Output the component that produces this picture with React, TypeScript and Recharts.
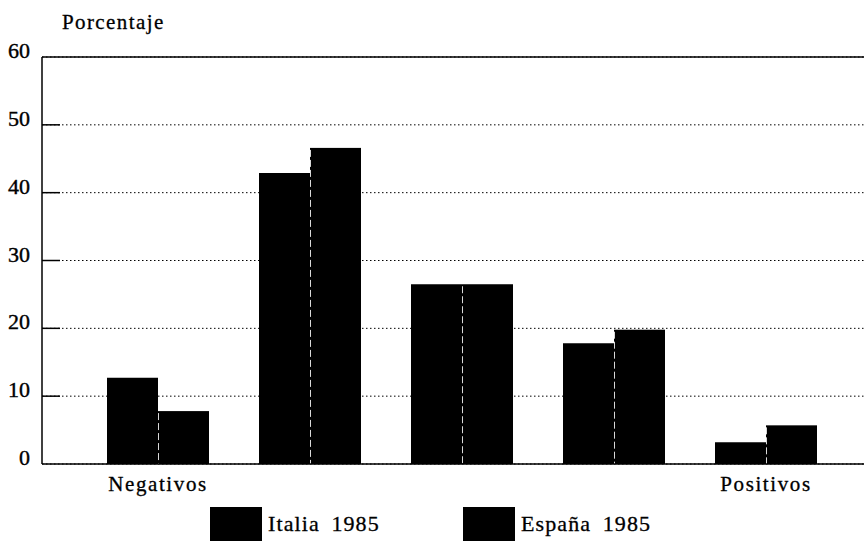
import React from "react";
import { BarChart, Bar, XAxis, YAxis, CartesianGrid, ReferenceLine, Legend } from "recharts";

// groups from negative to positive
const categories = ["g1", "g2", "g3", "g4", "g5"];
const tickLabels = ["Negativos", "", "", "", "Positivos"];
const italia = [12.7, 42.9, 26.5, 17.8, 3.2];
const espana = [7.8, 46.6, 26.5, 19.8, 5.7];
const yTicks = [0, 10, 20, 30, 40, 50, 60];

const data = categories.map((c, i) => ({ key: c, italia: italia[i], espana: espana[i] }));

const FONT = "'Liberation Serif', 'DejaVu Serif', serif";

function YTick(props: any) {
  const { x, y, payload } = props;
  return (
    <g>
      <text x={x} y={y + 1} textAnchor="end" fontFamily={FONT} fontSize={22} fill="#000" stroke="#000" strokeWidth={0.4}>
        {payload.value}
      </text>
      {payload.value > 0 && payload.value < 60 && (
        <line x1={x + 12} x2={x + 30} y1={y} y2={y} stroke="#000" strokeWidth={1.5} />
      )}
    </g>
  );
}

function EspanaBar(props: any) {
  const { x, y, width, height } = props;
  return (
    <g>
      <rect x={x} y={y} width={width} height={height} fill="#000" />
      <line x1={x + 0.5} x2={x + 0.5} y1={y + 2} y2={y + height} stroke="#fff" strokeWidth={1} strokeDasharray="7 3" opacity={0.85} />
    </g>
  );
}

function renderLegend() {
  const item = (left: number, label: string) => (
    <div style={{ position: "absolute", left, top: 0, display: "flex", alignItems: "center" }}>
      <div style={{ width: 52, height: 34, background: "#000" }} />
      <span style={{ marginLeft: 6, fontFamily: FONT, fontSize: 22, letterSpacing: 1.1, wordSpacing: 5, color: "#000", WebkitTextStroke: "0.3px #000" }}>{label}</span>
    </div>
  );
  return (
    <div style={{ position: "relative", width: 864, height: 34 }}>
      {item(210, "Italia 1985")}
      {item(463, "España 1985")}
    </div>
  );
}

export default function App() {
  return (
    <div style={{ position: "relative", width: 864, height: 541, background: "#fff" }}>
      <style>{`body{margin:0;}`}</style>
      <div style={{ position: "absolute", left: 62, top: 10, fontFamily: FONT, fontSize: 21, letterSpacing: 1.4, color: "#000", WebkitTextStroke: "0.3px #000" }}>
        Porcentaje
      </div>
      <BarChart
        width={864}
        height={541}
        data={data}
        margin={{ top: 57, right: 0, left: 0, bottom: 0 }}
        barGap={0}
        barCategoryGap={25}
      >
        <CartesianGrid vertical={false} stroke="#000" strokeWidth={1} strokeDasharray="1.5 2.5" />
        <ReferenceLine y={60} stroke="#000" strokeWidth={1.5} />
        <XAxis
          dataKey="key"
          padding={{ left: 40, right: 22 }}
          axisLine={{ stroke: "#000", strokeWidth: 1.5 }}
          tickLine={false}
          tickMargin={6}
          height={43}
          tickFormatter={(_v: any, i: number) => tickLabels[i]}
          tick={{ fontFamily: FONT, fontSize: 21, fill: "#000", letterSpacing: 1.6, stroke: "#000", strokeWidth: 0.3 }}
        />
        <YAxis
          domain={[0, 60]}
          ticks={yTicks}
          width={42}
          axisLine={{ stroke: "#000", strokeWidth: 1.5 }}
          tickSize={0}
          tickMargin={12}
          tick={<YTick />}
        />
        <Legend verticalAlign="bottom" content={renderLegend} wrapperStyle={{ left: 0, bottom: 0, width: 864, height: 34 }} />
        <Bar dataKey="italia" name="Italia 1985" fill="#000" isAnimationActive={false} />
        <Bar dataKey="espana" name="España 1985" fill="#000" shape={<EspanaBar />} isAnimationActive={false} />
      </BarChart>
    </div>
  );
}
